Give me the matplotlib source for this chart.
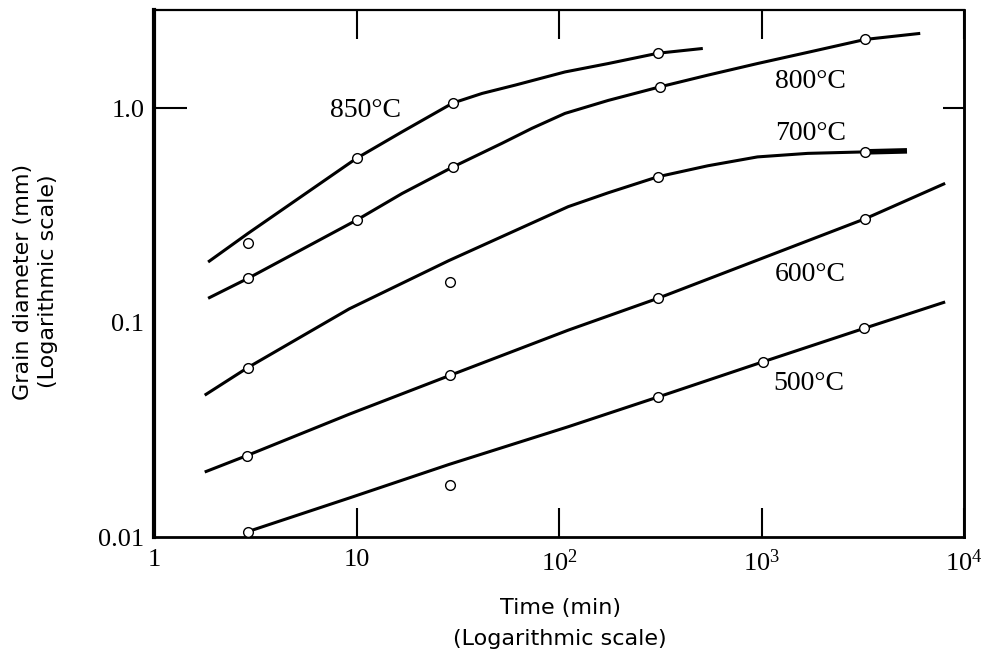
import matplotlib
matplotlib.use("Agg")
import matplotlib.pyplot as plt
from matplotlib.ticker import NullLocator

plt.rcParams["mathtext.fontset"] = "custom"
plt.rcParams["mathtext.rm"] = "Liberation Serif"
plt.rcParams["mathtext.it"] = "Liberation Serif"

# curve paths (time in min, grain diameter in mm)
t850 = [1.85, 2.91, 10, 16.8, 29.9, 41.7, 60.8, 107, 175, 308, 513]
d850 = [0.192, 0.261, 0.585, 0.778, 1.06, 1.175, 1.285, 1.48, 1.62, 1.81, 1.905]

t800 = [1.85, 2.91, 10, 16.8, 29.9, 52.2, 73.4, 107, 175, 314, 543, 955, 1750, 3260, 6080]
d800 = [0.130, 0.161, 0.301, 0.401, 0.533, 0.687, 0.807, 0.948, 1.09, 1.26, 1.43,
        1.62, 1.84, 2.10, 2.24]

t700 = [1.78, 2.91, 9.2, 28.6, 111, 175, 308, 543, 955, 1690, 3260]
d700 = [0.0459, 0.0618, 0.116, 0.195, 0.348, 0.404, 0.48, 0.54, 0.594, 0.617, 0.627]
t700_tail = [3260, 5230]
d700_tail = [0.627, 0.634]

t600 = [1.78, 2.88, 9.2, 29.1, 111, 308, 3260, 8070]
d600 = [0.0201, 0.024, 0.0374, 0.0569, 0.0923, 0.130, 0.306, 0.447]

t500 = [2.91, 9.2, 28.6, 111, 308, 1012, 3200, 8070]
d500 = [0.0106, 0.0152, 0.0218, 0.0327, 0.045, 0.0656, 0.094, 0.125]

# measured points (open circles)
pt850_t = [2.91, 10, 29.9, 308]
pt850_d = [0.236, 0.585, 1.06, 1.81]
pt800_t = [2.91, 10, 29.9, 314, 3260]
pt800_d = [0.161, 0.301, 0.533, 1.26, 2.10]
pt700_t = [2.91, 29.1, 308, 3260]
pt700_d = [0.0618, 0.155, 0.48, 0.627]
pt600_t = [2.88, 29.1, 308, 3260]
pt600_d = [0.024, 0.0569, 0.130, 0.306]
pt500_t = [2.91, 29.1, 308, 1012, 3200]
pt500_d = [0.0106, 0.0174, 0.045, 0.0656, 0.094]

labels = ["850°C", "800°C", "700°C", "600°C", "500°C"]
label_t = [11.1, 1750, 1750, 1750, 1720]
label_d = [0.98, 1.33, 0.764, 0.168, 0.052]

xtick_vals = [1, 10, 100, 1000, 10000]
xtick_text = ["1", "10", "$10^2$", "$10^3$", "$10^4$"]
ytick_vals = [0.01, 0.1, 1.0]
ytick_text = ["0.01", "0.1", "1.0"]

fig = plt.figure(figsize=(9.84, 6.57), dpi=100)
ax = fig.add_axes([154 / 984, 1 - 537 / 657, (964 - 154) / 984, (537 - 10) / 657])
ax.set_xscale("log")
ax.set_yscale("log")
ax.set_xlim(1, 10000)
ax.set_ylim(0.01, 2.88)

lines = [(t850, d850), (t800, d800), (t700, d700), (t600, d600), (t500, d500)]
for t, d in lines:
    ax.plot(t, d, color="black", lw=2.2, solid_capstyle="butt",
            solid_joinstyle="round")
ax.plot(t700_tail, d700_tail, color="black", lw=4, solid_capstyle="butt")

points = [(pt850_t, pt850_d), (pt800_t, pt800_d), (pt700_t, pt700_d),
          (pt600_t, pt600_d), (pt500_t, pt500_d)]
for t, d in points:
    ax.plot(t, d, "o", ms=7, mfc="white", mec="black", mew=1.0,
            zorder=5, clip_on=False)

for txt, t, d in zip(labels, label_t, label_d):
    ax.text(t, d, txt, fontsize=20, family="Liberation Serif",
            ha="center", va="center")

ax.set_xticks(xtick_vals)
ax.set_xticklabels(xtick_text, family="Liberation Serif", fontsize=19)
ax.set_yticks(ytick_vals)
ax.set_yticklabels(ytick_text, family="Liberation Serif", fontsize=19)
ax.xaxis.set_minor_locator(NullLocator())
ax.yaxis.set_minor_locator(NullLocator())
ax.tick_params(axis="x", direction="in", length=21, width=1.5,
               top=True, bottom=True, pad=9)
ax.tick_params(axis="y", which="major", direction="in", length=24, width=1.5,
               left=True, right=False, pad=7)

# short tick at 1.0 on the right side only, none at 0.1
ax2 = ax.secondary_yaxis("right")
ax2.set_yticks([1.0])
ax2.set_yticklabels([])
ax2.tick_params(direction="in", length=15, width=1.5)
ax2.yaxis.set_minor_locator(NullLocator())
ax2.spines["right"].set_linewidth(1.8)
for tk in ax.yaxis.get_major_ticks()[0:2]:
    tk.tick1line.set_visible(False)

ax.spines["left"].set_linewidth(3)
ax.spines["bottom"].set_linewidth(2)
ax.spines["right"].set_linewidth(1.8)
ax.spines["top"].set_linewidth(1.6)

fig.text(560 / 984, 1 - 623.5 / 657, "Time (min)\n(Logarithmic scale)",
         ha="center", va="center", fontsize=16, family="DejaVu Sans",
         linespacing=1.7, multialignment="center")
fig.text(35.5 / 984, 1 - 281.5 / 657, "Grain diameter (mm)\n(Logarithmic scale)",
         ha="center", va="center", rotation=90, fontsize=16,
         family="DejaVu Sans", linespacing=1.35, multialignment="center")

fig.savefig("out.png", dpi=100)
